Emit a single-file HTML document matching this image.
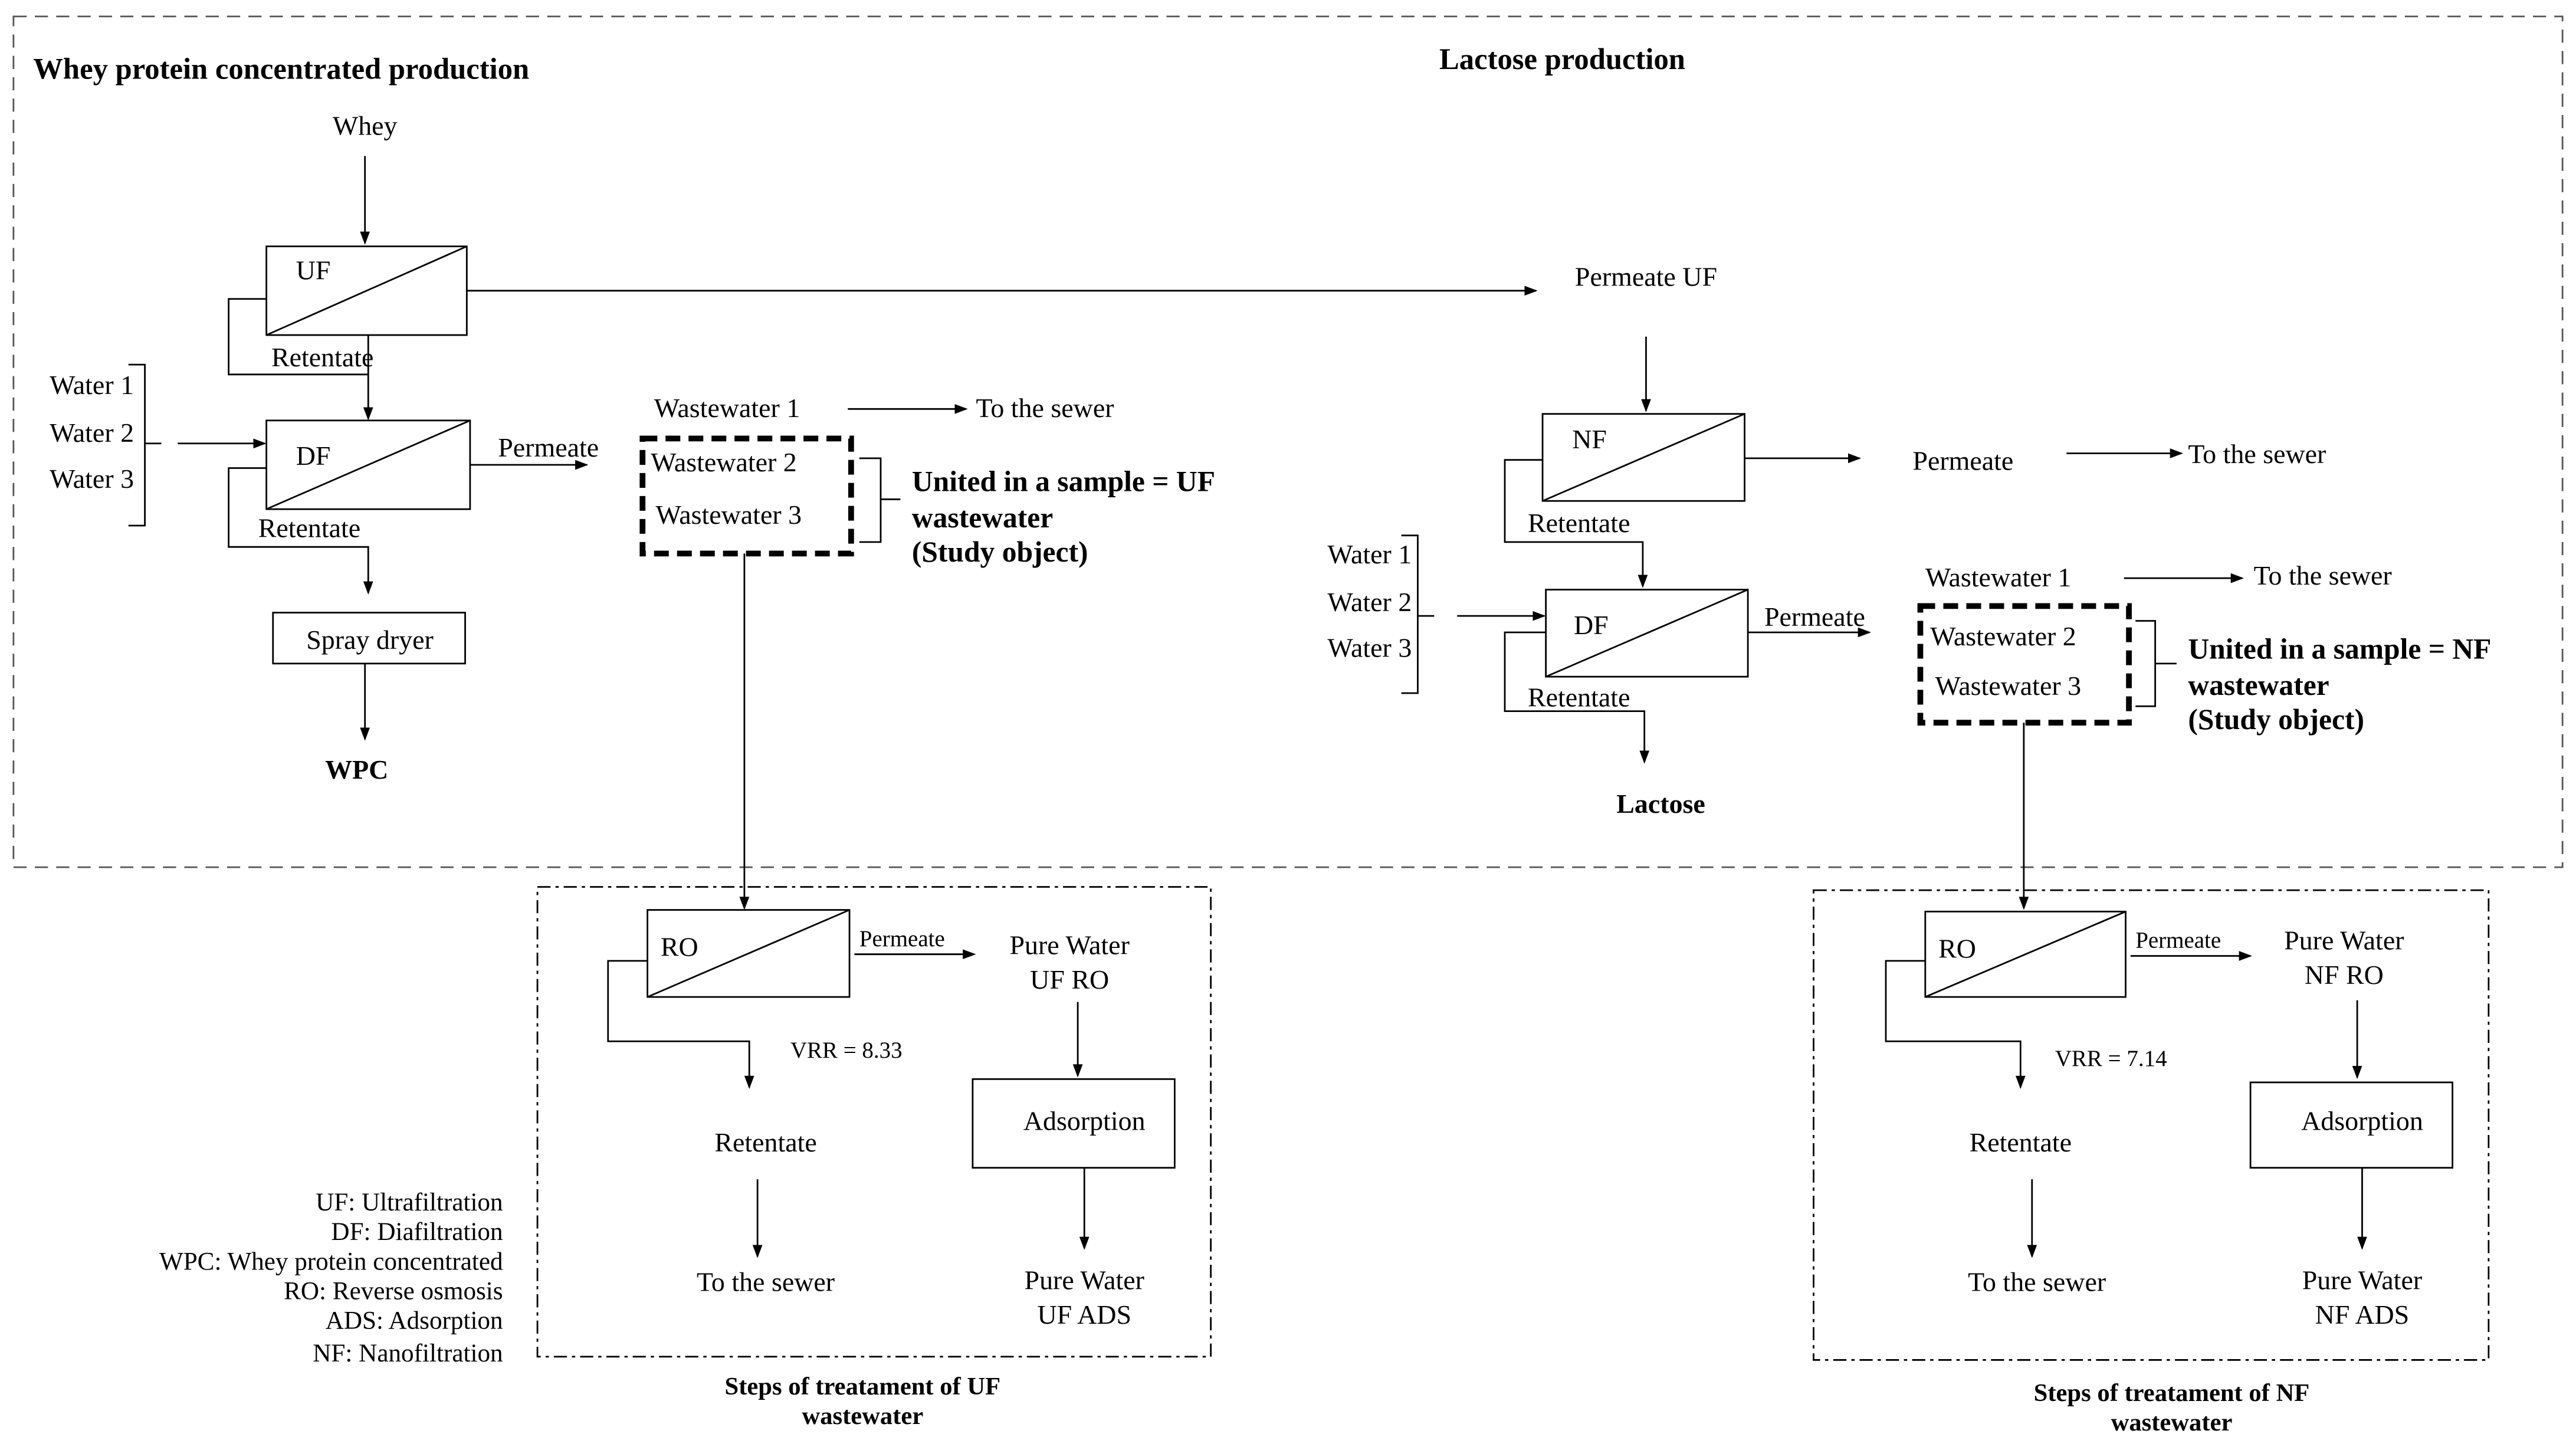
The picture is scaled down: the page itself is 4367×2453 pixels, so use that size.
<!DOCTYPE html>
<html><head><meta charset="utf-8"><style>
html,body{margin:0;padding:0;background:#fff;}
svg{display:block;}
text{font-family:"Liberation Serif",serif;fill:#000;}
.b{font-weight:bold;}
</style></head><body>
<svg width="4367" height="2453" viewBox="0 0 1568 881" xmlns="http://www.w3.org/2000/svg">
<defs><marker id="a" markerWidth="8" markerHeight="8" refX="7" refY="4" orient="auto" markerUnits="userSpaceOnUse"><path d="M0,1 L8,4 L0,7 z" fill="#000"/></marker></defs>
<g fill="none" stroke="#000" stroke-width="1">
<rect x="8" y="10" width="1552" height="518" stroke="#555" stroke-dasharray="8,5"/>
<line x1="222" y1="95" x2="222" y2="148" marker-end="url(#a)"/>
<rect x="162" y="150" width="122" height="54"/><line x1="162" y1="204" x2="284" y2="150"/>
<line x1="284" y1="177" x2="935" y2="177" marker-end="url(#a)"/>
<polyline points="162,182 139,182 139,228 224,228"/>
<line x1="224" y1="204" x2="224" y2="255" marker-end="url(#a)"/>
<rect x="162" y="256" width="124" height="54"/><line x1="162" y1="310" x2="286" y2="256"/>
<path d="M78,222 L88,222 L88,320 L78,320 M88,270 L98,270"/>
<line x1="108" y1="270" x2="161" y2="270" marker-end="url(#a)"/>
<line x1="286" y1="283" x2="357" y2="283" marker-end="url(#a)"/>
<polyline points="162,285 139,285 139,333 224,333 224,361" marker-end="url(#a)"/>
<rect x="166" y="373" width="117" height="31"/>
<line x1="222" y1="404" x2="222" y2="450" marker-end="url(#a)"/>
<line x1="516" y1="249" x2="588" y2="249" marker-end="url(#a)"/>
<rect x="391" y="267" width="127" height="70" stroke-width="3.5" stroke-dasharray="9,5"/>
<path d="M523,279 L536,279 L536,330 L523,330 M536,304 L548,304"/>
<line x1="453" y1="337" x2="453" y2="553" marker-end="url(#a)"/>
<rect x="327" y="540" width="410" height="286" stroke-dasharray="8,3,2,3"/>
<rect x="394" y="554" width="123" height="53"/><line x1="394" y1="607" x2="517" y2="554"/>
<line x1="520" y1="581" x2="593" y2="581" marker-end="url(#a)"/>
<line x1="656" y1="610" x2="656" y2="655" marker-end="url(#a)"/>
<rect x="592" y="657" width="123" height="54"/>
<line x1="660" y1="711" x2="660" y2="760" marker-end="url(#a)"/>
<polyline points="394,585 370,585 370,634 456,634 456,662" marker-end="url(#a)"/>
<line x1="461" y1="718" x2="461" y2="765" marker-end="url(#a)"/>
<line x1="1002" y1="205" x2="1002" y2="250" marker-end="url(#a)"/>
<rect x="939" y="252" width="123" height="53"/><line x1="939" y1="305" x2="1062" y2="252"/>
<line x1="1062" y1="279" x2="1132" y2="279" marker-end="url(#a)"/>
<line x1="1258" y1="276" x2="1328" y2="276" marker-end="url(#a)"/>
<polyline points="939,280 916,280 916,330 1000,330 1000,357" marker-end="url(#a)"/>
<rect x="941" y="359" width="123" height="53"/><line x1="941" y1="412" x2="1064" y2="359"/>
<path d="M853,326 L863,326 L863,422 L853,422 M863,375 L873,375"/>
<line x1="887" y1="375" x2="940" y2="375" marker-end="url(#a)"/>
<line x1="1064" y1="385" x2="1138" y2="385" marker-end="url(#a)"/>
<polyline points="941,385 916,385 916,433 1001,433 1001,464" marker-end="url(#a)"/>
<line x1="1293" y1="352" x2="1365" y2="352" marker-end="url(#a)"/>
<rect x="1169" y="369" width="127" height="71" stroke-width="3.5" stroke-dasharray="9,5"/>
<path d="M1300,378 L1312,378 L1312,430 L1300,430 M1312,404 L1325,404"/>
<line x1="1232" y1="440" x2="1232" y2="553" marker-end="url(#a)"/>
<rect x="1104" y="542" width="411" height="286" stroke-dasharray="8,3,2,3"/>
<rect x="1172" y="555" width="122" height="52"/><line x1="1172" y1="607" x2="1294" y2="555"/>
<line x1="1297" y1="582" x2="1370" y2="582" marker-end="url(#a)"/>
<line x1="1435" y1="609" x2="1435" y2="656" marker-end="url(#a)"/>
<rect x="1370" y="659" width="123" height="52"/>
<line x1="1438" y1="711" x2="1438" y2="760" marker-end="url(#a)"/>
<polyline points="1172,585 1148,585 1148,634 1230,634 1230,662" marker-end="url(#a)"/>
<line x1="1237" y1="718" x2="1237" y2="765" marker-end="url(#a)"/>
</g>
<g font-size="16.5">
<text x="20" y="48" class="b" font-size="18.2">Whey protein concentrated production</text>
<text x="951" y="42" class="b" font-size="18.2" text-anchor="middle">Lactose production</text>
<text x="222" y="82" text-anchor="middle">Whey</text>
<text x="180" y="170">UF</text>
<text x="1002" y="174" text-anchor="middle">Permeate UF</text>
<text x="165" y="223">Retentate</text>
<text x="180" y="283">DF</text>
<text x="30" y="240">Water 1</text><text x="30" y="269">Water 2</text><text x="30" y="297">Water 3</text>
<text x="303" y="278">Permeate</text>
<text x="157" y="327">Retentate</text>
<text x="225" y="395" text-anchor="middle">Spray dryer</text>
<text x="217" y="474" class="b" text-anchor="middle">WPC</text>
<text x="398" y="254">Wastewater 1</text>
<text x="594" y="254">To the sewer</text>
<text x="396" y="287">Wastewater 2</text>
<text x="399" y="319">Wastewater 3</text>
<g class="b" font-size="17.8">
<text x="555" y="299">United in a sample = UF</text>
<text x="555" y="321">wastewater</text>
<text x="555" y="342">(Study object)</text>
<text x="1332" y="401">United in a sample = NF</text>
<text x="1332" y="423">wastewater</text>
<text x="1332" y="444">(Study object)</text>
</g>
<text x="402" y="582">RO</text>
<text x="523" y="576" font-size="14">Permeate</text>
<text x="651" y="581" text-anchor="middle">Pure Water</text>
<text x="651" y="602" text-anchor="middle">UF RO</text>
<text x="660" y="688" text-anchor="middle">Adsorption</text>
<text x="660" y="785" text-anchor="middle">Pure Water</text>
<text x="660" y="806" text-anchor="middle">UF ADS</text>
<text x="481" y="644" font-size="14">VRR = 8.33</text>
<text x="466" y="701" text-anchor="middle">Retentate</text>
<text x="466" y="786" text-anchor="middle">To the sewer</text>
<g font-size="15.5" text-anchor="end">
<text x="306" y="737">UF: Ultrafiltration</text>
<text x="306" y="755">DF: Diafiltration</text>
<text x="306" y="773">WPC: Whey protein concentrated</text>
<text x="306" y="791">RO: Reverse osmosis</text>
<text x="306" y="809">ADS: Adsorption</text>
<text x="306" y="829">NF: Nanofiltration</text>
</g>
<text x="525" y="849" class="b" font-size="15.3" text-anchor="middle">Steps of treatament of UF</text>
<text x="525" y="867" class="b" font-size="15.3" text-anchor="middle">wastewater</text>
<text x="957" y="273">NF</text>
<text x="1195" y="286" text-anchor="middle">Permeate</text>
<text x="1332" y="282">To the sewer</text>
<text x="930" y="324">Retentate</text>
<text x="958" y="386">DF</text>
<text x="808" y="343">Water 1</text><text x="808" y="372">Water 2</text><text x="808" y="400">Water 3</text>
<text x="1074" y="381">Permeate</text>
<text x="930" y="430">Retentate</text>
<text x="1011" y="495" class="b" text-anchor="middle">Lactose</text>
<text x="1172" y="357">Wastewater 1</text>
<text x="1372" y="356">To the sewer</text>
<text x="1175" y="393">Wastewater 2</text>
<text x="1178" y="423">Wastewater 3</text>
<text x="1180" y="583">RO</text>
<text x="1300" y="577" font-size="14">Permeate</text>
<text x="1427" y="578" text-anchor="middle">Pure Water</text>
<text x="1427" y="599" text-anchor="middle">NF RO</text>
<text x="1438" y="688" text-anchor="middle">Adsorption</text>
<text x="1438" y="785" text-anchor="middle">Pure Water</text>
<text x="1438" y="806" text-anchor="middle">NF ADS</text>
<text x="1251" y="649" font-size="14">VRR = 7.14</text>
<text x="1230" y="701" text-anchor="middle">Retentate</text>
<text x="1240" y="786" text-anchor="middle">To the sewer</text>
<text x="1322" y="853" class="b" font-size="15.3" text-anchor="middle">Steps of treatament of NF</text>
<text x="1322" y="871" class="b" font-size="15.3" text-anchor="middle">wastewater</text>
</g>
</svg>
</body></html>
